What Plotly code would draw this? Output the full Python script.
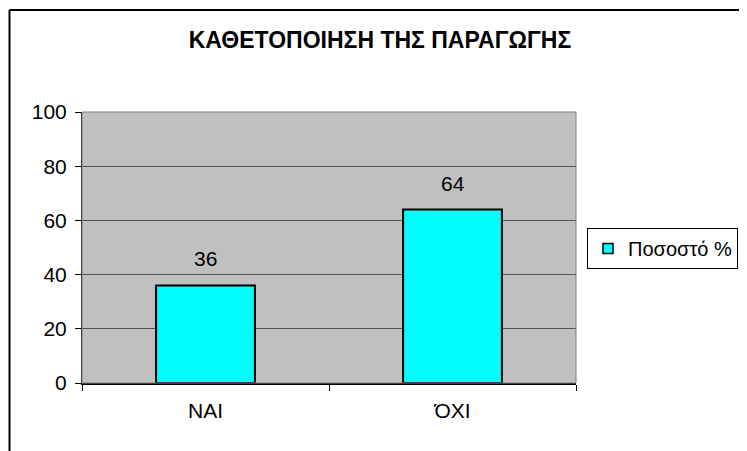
import plotly.graph_objects as go

# data
categories = ["ΝΑΙ", "ΌΧΙ"]
values = [36, 64]
series_name = "Ποσοστό %"
title_text = "ΚΑΘΕΤΟΠΟΙΗΣΗ ΤΗΣ ΠΑΡΑΓΩΓΗΣ"

FONT = "Arial, Liberation Sans, sans-serif"
CYAN = "#00FFFF"
W, H = 747, 451
OFF = 8  # page body margin shifts the figure by 8px
# target plot area in screen px: 82..576 x 112..383
L, T = 82 - OFF, 112 - OFF
R, B = W - (576 - OFF), H - (383 - OFF)
PW, PH = W - L - R, H - T - B


def px_x(x):
    return (x - OFF - L) / PW


def px_y(y):
    return (H - B - (y - OFF)) / PH


fig = go.Figure()
fig.add_trace(go.Bar(
    x=categories,
    y=values,
    name=series_name,
    legendgroup="s",
    marker=dict(color=CYAN, line=dict(color="black", width=2)),
    showlegend=False,
))
# legend entry only: small square key like the original
fig.add_trace(go.Scatter(
    x=[None], y=[None], mode="markers", name=series_name, legendgroup="s",
    marker=dict(symbol="square", size=10, color=CYAN,
                line=dict(color="black", width=1.5)),
))

# value labels above the bars
for c, v in zip(categories, values):
    fig.add_annotation(x=c, y=v, text=str(v), showarrow=False,
                       yanchor="bottom", yshift=13,
                       font=dict(family=FONT, size=21, color="black"))

# outer chart border: left and top edges (the rest runs past the picture)
fig.add_shape(type="line", xref="paper", yref="paper",
              x0=px_x(9.5), x1=px_x(9.5), y0=px_y(470), y1=px_y(10),
              line=dict(color="black", width=2))
fig.add_shape(type="line", xref="paper", yref="paper",
              x0=px_x(9.5), x1=px_x(770), y0=px_y(10), y1=px_y(10),
              line=dict(color="black", width=2))
# plot area frame
fig.add_shape(type="rect", xref="paper", yref="paper",
              x0=0, x1=1, y0=0, y1=1,
              line=dict(color="#808080", width=1))

fig.update_layout(
    width=W, height=H,
    margin=dict(l=L, r=R, t=T, b=B, autoexpand=False),
    paper_bgcolor="white",
    plot_bgcolor="#C0C0C0",
    font=dict(family=FONT, size=21, color="black"),
    title=dict(text=f"<b>{title_text}</b>", x=(380 - OFF) / W, xanchor="center",
               y=1 - (40 - OFF) / H, yanchor="middle",
               font=dict(family=FONT, size=23, color="black")),
    bargap=0.6,
    legend=dict(x=px_x(587), y=px_y(228), xanchor="left", yanchor="top",
                bordercolor="black", borderwidth=1, bgcolor="white",
                itemwidth=30, font=dict(family=FONT, size=20)),
)
fig.update_yaxes(range=[0, 100], dtick=20, showgrid=True, gridcolor="#555555",
                 gridwidth=1, ticks="outside", ticklen=6, tickcolor="black",
                 ticklabelstandoff=4,
                 showline=True, linecolor="black", linewidth=1, zeroline=False)
fig.update_xaxes(showgrid=False, ticks="outside", tickson="boundaries",
                 ticklen=6, tickcolor="black", ticklabelstandoff=8,
                 showline=True, linecolor="black", linewidth=2)

fig.write_html("out.html")
